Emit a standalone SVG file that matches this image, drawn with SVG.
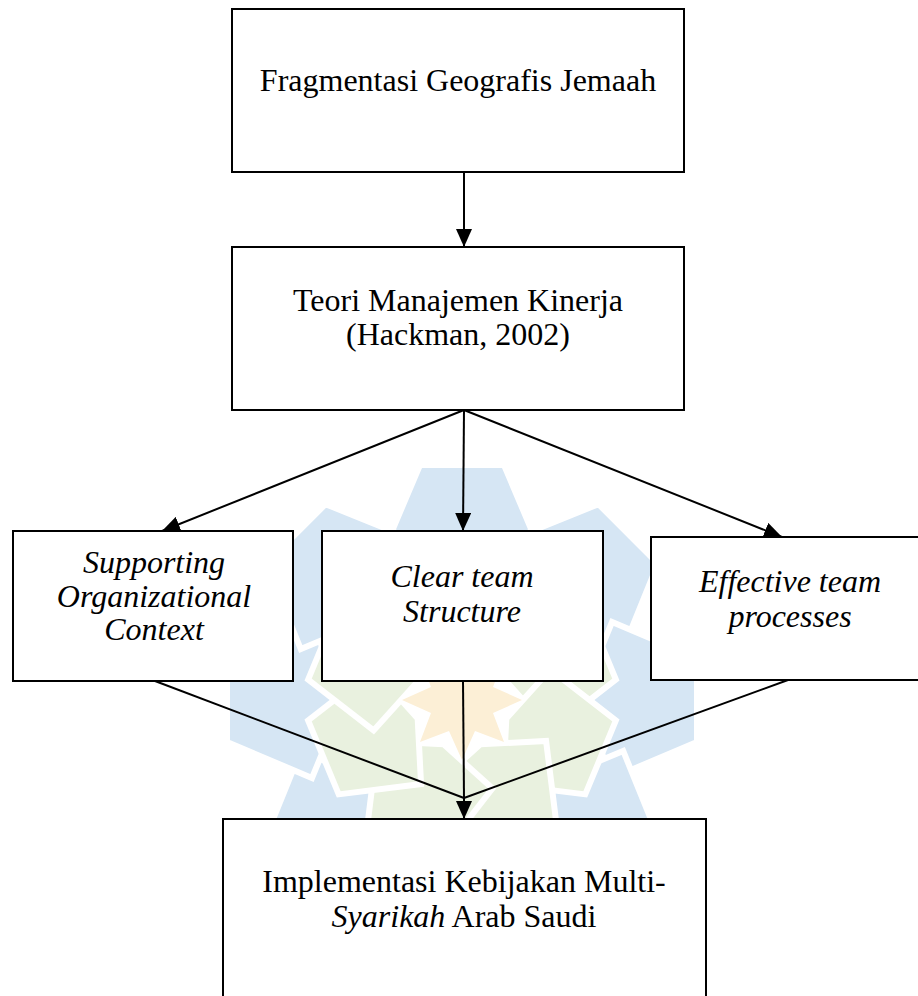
<svg xmlns="http://www.w3.org/2000/svg" xmlns:xlink="http://www.w3.org/1999/xlink" width="918" height="996" viewBox="0 0 918 996">
  <style>
    .box { fill: #ffffff; stroke: #000000; stroke-width: 2; }
    .lbl { font-family: "Liberation Serif", "Times New Roman", serif; font-size: 32px; fill: #000000; text-anchor: middle; }
    .it { font-style: italic; }
    .con { stroke: #000000; stroke-width: 2; fill: none; }
    .wm { stroke: #ffffff; stroke-width: 6; stroke-linejoin: miter; }
  </style>
  <defs>
    <marker id="arrow" markerUnits="userSpaceOnUse" markerWidth="18" markerHeight="16" refX="18" refY="8" orient="auto">
      <path d="M0,0 L18,8 L0,16 z" fill="#000000"/>
    </marker>
    <polygon id="petal" class="wm" points="-42,-235 42,-235 78,-150 0,-118 -78,-150" fill="#d6e6f4"/>
    <polygon id="leaf" class="wm" points="-40,-150 40,-150 62,-70 0,-48 -62,-70" fill="#e9f1df"/>
  </defs>

  <g id="watermark">
    <use xlink:href="#petal" transform="translate(462 700)"/>
    <use xlink:href="#petal" transform="translate(462 700) rotate(45)"/>
    <use xlink:href="#petal" transform="translate(462 700) rotate(90)"/>
    <use xlink:href="#petal" transform="translate(462 700) rotate(135)"/>
    <use xlink:href="#petal" transform="translate(462 700) rotate(180)"/>
    <use xlink:href="#petal" transform="translate(462 700) rotate(225)"/>
    <use xlink:href="#petal" transform="translate(462 700) rotate(270)"/>
    <use xlink:href="#petal" transform="translate(462 700) rotate(315)"/>
    <use xlink:href="#leaf" transform="translate(462 700) rotate(22.5)"/>
    <use xlink:href="#leaf" transform="translate(462 700) rotate(67.5)"/>
    <use xlink:href="#leaf" transform="translate(462 700) rotate(112.5)"/>
    <use xlink:href="#leaf" transform="translate(462 700) rotate(157.5)"/>
    <use xlink:href="#leaf" transform="translate(462 700) rotate(202.5)"/>
    <use xlink:href="#leaf" transform="translate(462 700) rotate(247.5)"/>
    <use xlink:href="#leaf" transform="translate(462 700) rotate(292.5)"/>
    <use xlink:href="#leaf" transform="translate(462 700) rotate(337.5)"/>
    <polygon fill="#fcefd6" points="462,640 475,669 504,658 493,687 522,700 493,713 504,742 475,731 462,760 449,731 420,742 431,713 402,700 431,687 420,658 449,669"/>
  </g>

  <g id="connectors">
    <line class="con" x1="464" y1="172" x2="464" y2="247" marker-end="url(#arrow)"/>
    <line class="con" x1="464" y1="410" x2="162" y2="531" marker-end="url(#arrow)"/>
    <line class="con" x1="464" y1="410" x2="463" y2="531" marker-end="url(#arrow)"/>
    <line class="con" x1="464" y1="410" x2="782" y2="537" marker-end="url(#arrow)"/>
    <line class="con" x1="155" y1="681" x2="464" y2="798"/>
    <line class="con" x1="463" y1="681" x2="464" y2="798"/>
    <line class="con" x1="788" y1="680" x2="464" y2="798"/>
    <line class="con" x1="464" y1="798" x2="464" y2="819" marker-end="url(#arrow)"/>
  </g>

  <g id="node-fragmentasi">
    <rect class="box" x="232" y="9" width="452" height="163"/>
    <text class="lbl" x="458" y="91">Fragmentasi Geografis Jemaah</text>
  </g>

  <g id="node-teori">
    <rect class="box" x="232" y="247" width="452" height="163"/>
    <text class="lbl" x="458" y="311">Teori Manajemen Kinerja</text>
    <text class="lbl" x="458" y="345">(Hackman, 2002)</text>
  </g>

  <g id="node-supporting">
    <rect class="box" x="13" y="531" width="280" height="150"/>
    <text class="lbl it" x="154" y="573">Supporting</text>
    <text class="lbl it" x="154" y="607">Organizational</text>
    <text class="lbl it" x="154" y="640">Context</text>
  </g>

  <g id="node-clear">
    <rect class="box" x="322" y="531" width="281" height="150"/>
    <text class="lbl it" x="462" y="587">Clear team</text>
    <text class="lbl it" x="462" y="622">Structure</text>
  </g>

  <g id="node-effective">
    <rect class="box" x="651" y="537" width="280" height="143"/>
    <text class="lbl it" x="790" y="592">Effective team</text>
    <text class="lbl it" x="790" y="627">processes</text>
  </g>

  <g id="node-implementasi">
    <rect class="box" x="223" y="819" width="483" height="200"/>
    <text class="lbl" x="464" y="892">Implementasi Kebijakan Multi-</text>
    <text class="lbl" x="464" y="927"><tspan class="it">Syarikah</tspan> Arab Saudi</text>
  </g>
</svg>
